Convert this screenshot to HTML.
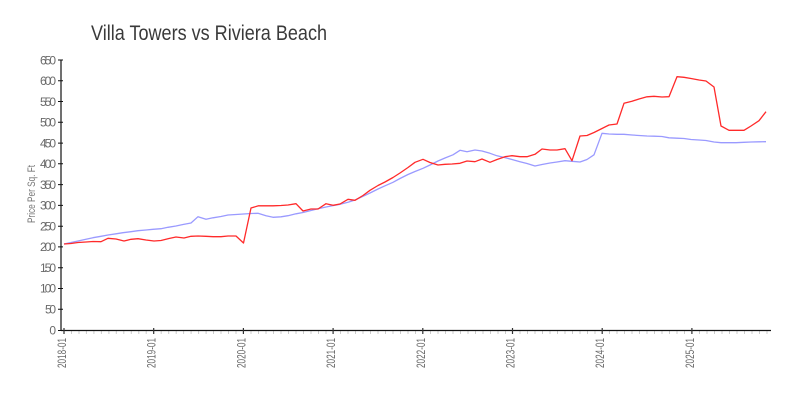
<!DOCTYPE html>
<html><head><meta charset="utf-8"><style>
html,body{margin:0;padding:0;background:#fff;}
svg{display:block;}
text{font-family:"Liberation Sans",sans-serif;}
</style></head><body>
<svg width="800" height="400" viewBox="0 0 800 400" xmlns="http://www.w3.org/2000/svg">
<rect width="800" height="400" fill="#fff"/>
<text x="91" y="40" font-size="21" fill="#3a3a3a" textLength="236" lengthAdjust="spacingAndGlyphs">Villa Towers vs Riviera Beach</text>

<!-- y axis title -->
<text transform="translate(35,194) rotate(-90)" text-anchor="middle" font-size="11" fill="#777" textLength="58" lengthAdjust="spacingAndGlyphs">Price Per Sq. Ft</text>

<!-- minor x ticks -->
<g stroke="#ccc" stroke-width="1">
<path d="M71.5 331V334M79 331V334M86.4 331V334M93.9 331V334M101.4 331V334M108.9 331V334M116.3 331V334M123.8 331V334M131.3 331V334M138.8 331V334M146.2 331V334M161.2 331V334M168.7 331V334M176.2 331V334M183.6 331V334M191.1 331V334M198.6 331V334M206.1 331V334M213.5 331V334M221 331V334M228.5 331V334M236 331V334M251 331V334M258.5 331V334M266 331V334M273.5 331V334M281 331V334M288.5 331V334M296 331V334M303.5 331V334M311 331V334M318.5 331V334M326 331V334M340.5 331V334M348 331V334M355.5 331V334M363 331V334M370.5 331V334M378 331V334M385.5 331V334M393 331V334M400.5 331V334M408 331V334M415.5 331V334M430.5 331V334M438 331V334M445.5 331V334M453 331V334M460.5 331V334M468 331V334M475.5 331V334M483 331V334M490.5 331V334M498 331V334M505.5 331V334M520 331V334M527.5 331V334M535 331V334M542.5 331V334M550 331V334M557.5 331V334M565 331V334M572.5 331V334M580 331V334M587.5 331V334M595 331V334M609.5 331V334M617 331V334M624.5 331V334M632 331V334M639.5 331V334M647 331V334M654.5 331V334M662 331V334M669.5 331V334M677 331V334M684.5 331V334M699.5 331V334M707 331V334M714.5 331V334M722 331V334M729.5 331V334M737 331V334M744.5 331V334M752 331V334M759.5 331V334M767 331V334"/>
</g>

<!-- axes -->
<g stroke="#111" stroke-width="1.2" fill="none">
<path d="M61 60V331"/>
<path d="M61 330.5H771"/>
</g>
<!-- y ticks -->
<g stroke="#111" stroke-width="1">
<path d="M58 330.5H63M58 309.2H63M58 288.5H63M58 267.7H63M58 246.9H63M58 226.2H63M58 205.4H63M58 184.6H63M58 163.8H63M58 143.1H63M58 122.3H63M58 101.5H63M58 80.8H63M58 60H63"/>
</g>
<!-- x major ticks -->
<g stroke="#333" stroke-width="1.2">
<path d="M64 328V334M153.7 328V334M243.4 328V334M333.1 328V334M422.8 328V334M512.5 328V334M602.2 328V334M691.9 328V334"/>
</g>

<!-- y labels -->
<g font-size="12" fill="#6a6a6a" text-anchor="end" lengthAdjust="spacingAndGlyphs">
<text x="56" y="334.5" textLength="6">0</text>
<text x="56" y="313.5" textLength="11">50</text>
<text x="56" y="292.5" textLength="16">100</text>
<text x="56" y="272" textLength="16">150</text>
<text x="56" y="251" textLength="16">200</text>
<text x="56" y="230.5" textLength="16">250</text>
<text x="56" y="209.5" textLength="16">300</text>
<text x="56" y="189" textLength="16">350</text>
<text x="56" y="168" textLength="16">400</text>
<text x="56" y="147.5" textLength="16">450</text>
<text x="56" y="126.5" textLength="16">500</text>
<text x="56" y="106" textLength="16">550</text>
<text x="56" y="85" textLength="16">600</text>
<text x="56" y="64.5" textLength="16">650</text>
</g>

<!-- x labels -->
<g font-size="12" fill="#6a6a6a" text-anchor="end">
<text transform="translate(66,338) rotate(-90)" textLength="30" lengthAdjust="spacingAndGlyphs">2018-01</text>
<text transform="translate(155.7,338) rotate(-90)" textLength="30" lengthAdjust="spacingAndGlyphs">2019-01</text>
<text transform="translate(245.4,338) rotate(-90)" textLength="30" lengthAdjust="spacingAndGlyphs">2020-01</text>
<text transform="translate(335.1,338) rotate(-90)" textLength="30" lengthAdjust="spacingAndGlyphs">2021-01</text>
<text transform="translate(424.8,338) rotate(-90)" textLength="30" lengthAdjust="spacingAndGlyphs">2022-01</text>
<text transform="translate(514.5,338) rotate(-90)" textLength="30" lengthAdjust="spacingAndGlyphs">2023-01</text>
<text transform="translate(604.2,338) rotate(-90)" textLength="30" lengthAdjust="spacingAndGlyphs">2024-01</text>
<text transform="translate(693.9,338) rotate(-90)" textLength="30" lengthAdjust="spacingAndGlyphs">2025-01</text>
</g>

<!-- blue series -->
<polyline fill="none" stroke="#9a9aff" stroke-width="1.3" stroke-linejoin="round" points="64,244 71,242.5 78,241 86,239.3 93,237.7 101,236.3 108,235 116,233.8 123,232.7 131,231.7 138,230.7 146,230 153,229.3 161,228.7 168,227.3 176,226 183,224.5 191,223 198,216.7 206,219.3 213,217.8 221,216.5 228,215 236,214.5 243.5,214 251,213.5 258,213.3 266,215.7 273,217.3 281,216.8 288,215.7 296,213.8 303,212.5 311,210.5 318,208.8 326,207 333,205.6 340,204.3 348,202.3 355,200 363,196.3 370,193 378,189 385,185.8 393,182.3 400,178.5 408,174.5 415,171.5 423,168.3 430,165 438,161 445,158 453,154.8 460,150.3 467,151.7 475,150 482,151 490,153.3 497,155.8 505,157.6 512,159.5 520,161.7 527,163.5 535,166 542,164.5 550,163 557,162 565,160.7 572,161.3 580,162 587,159.5 594,154.8 602,133.3 609,134 617,134.3 624,134.3 632,135 639,135.5 647,136 654,136.2 662,136.5 669,137.8 677,138.2 684,138.5 691,139.5 699,140 706,140.5 714,142 721,142.7 729,142.7 736,142.7 744,142.3 751,142 759,141.8 766,141.7"/>

<!-- red series -->
<polyline fill="none" stroke="#ff2a2a" stroke-width="1.3" stroke-linejoin="round" points="64,244 71,243.5 78,242.5 86,242 93,241.5 101,241.7 108,238.3 116,239 124,241 131,239.3 138,238.7 146,240 154,241 161,240.5 169,238.5 176,237 184,238 191,236.3 198,236 206,236.3 213,236.7 221,236.7 228,236 236,236 243.5,243 251,208 258.5,205.8 266,205.8 273,205.8 281,205.5 288,205 296,203.7 303,211 311,209 318,209 326,203.7 333,205.3 340,204 348,199.3 355,200.3 363,195.5 370,190.3 378,185.5 385,182 393,177.5 400,173 408,167.5 415,162.3 423,159.3 430,162.5 438,165 445,164.3 452,164 460,163.3 467,161 475,161.7 482,159 490,162.3 497,159.5 505,156.7 512,155.7 520,156.7 527,156.7 535,154.3 542,149 550,150 557,150 565,148.7 572,160.7 580,136 587,135.5 594,132.5 602,128.5 609,125 617,124 624,103.3 632,101.3 639,99 647,96.8 654,96.3 662,97 669,96.7 677,76.7 684,77.3 691,78.5 699,80 706,81 714,87 721,126 729,130.3 736,130.3 744,130.3 751,126 759,120.7 766,111.7"/>
</svg>
</body></html>
